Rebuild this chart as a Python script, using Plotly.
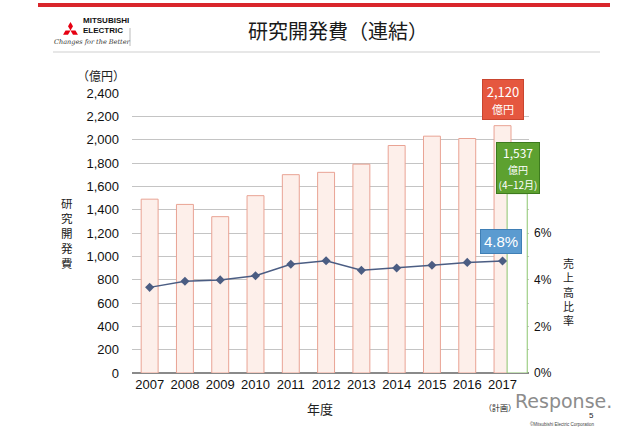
import math
import plotly.graph_objects as go

years = ["2007", "2008", "2009", "2010", "2011", "2012", "2013", "2014", "2015", "2016", "2017"]
rd_cost = [1490, 1445, 1340, 1520, 1700, 1720, 1790, 1950, 2030, 2010, 2120]
rd_ratio = [3.67, 3.93, 3.99, 4.17, 4.66, 4.81, 4.40, 4.50, 4.62, 4.74, 4.80]
actual_2017 = [1537]
y_ticks = [0, 200, 400, 600, 800, 1000, 1200, 1400, 1600, 1800, 2000, 2200, 2400]
y2_ticks = [0, 2, 4, 6]

W, H = 640, 427
L, R, T, B = 132, 111, 93, 54
PW, PH = W - L - R, H - T - B


def px(x):
    return (x - L) / PW


def py(y):
    return (H - B - y) / PH


xs = list(range(len(years)))
FONT = "Liberation Sans, Arial, sans-serif"
JP = "Noto Sans CJK JP, sans-serif"

fig = go.Figure()
fig.add_trace(go.Bar(
    x=xs, y=rd_cost, width=0.48,
    marker=dict(color="#FDEFEA", line=dict(color="#E9A394", width=1)),
    showlegend=False, hoverinfo="skip"))
fig.add_trace(go.Bar(
    x=[xs[-1]], y=actual_2017, width=0.57, offset=0.13,
    marker=dict(color="#FFFFFF", line=dict(color="#8CC56E", width=1)),
    showlegend=False, hoverinfo="skip"))
fig.add_trace(go.Scatter(
    x=xs, y=rd_ratio, yaxis="y2", mode="lines+markers",
    line=dict(color="#4B5D83", width=1.5),
    marker=dict(symbol="diamond", size=7, color="#4B5D83"),
    showlegend=False, hoverinfo="skip"))

ann = []


def txt(x, y, text, size, family=JP, color="#222", xanchor="center", align="center"):
    ann.append(dict(x=px(x), y=py(y), xref="paper", yref="paper", showarrow=False,
                    xanchor=xanchor, yanchor="middle", text=text, align=align,
                    font=dict(family=family, size=size, color=color)))


# callouts
ann.append(dict(x=xs[-1], y=2345, xref="x", yref="y", showarrow=False,
                xanchor="center", yanchor="middle",
                text="2,120<br><span style='font-size:11px'>億円</span>",
                font=dict(family=JP, size=13, color="white"),
                bgcolor="#E5573F", bordercolor="#C9452F", borderwidth=1, borderpad=2,
                width=36, align="center"))
ann.append(dict(x=xs[-1] + 0.45, y=1757, xref="x", yref="y", showarrow=False,
                xanchor="center", yanchor="middle",
                text="1,537<br><span style='font-size:10px'>億円</span><br><span style='font-size:10px'>(4−12月)</span>",
                font=dict(family=JP, size=12, color="white"),
                bgcolor="#5DA130", bordercolor="#3D7A1E", borderwidth=1, borderpad=1,
                width=40, align="center"))
ann.append(dict(x=xs[-1] - 0.03, y=1131, xref="x", yref="y", showarrow=False,
                xanchor="center", yanchor="middle",
                text="4.8%", font=dict(family=FONT, size=15, color="white"),
                bgcolor="#5B9BD0", bordercolor="#3F7FB5", borderwidth=1, borderpad=3))

# title and axis texts
txt(338, 31, "研究開発費（連結）", 20, color="#1a1a1a")
txt(101, 75, "（億円）", 12)
txt(67, 233, "<br>".join("研究開発費"), 11.5)
txt(568, 291, "<br>".join("売上高比率"), 11)
txt(320, 408, "年度", 13)
txt(500, 407, "（計画）", 8)
# logo texts
txt(81, 26, "<b>MITSUBISHI<br>ELECTRIC</b>", 8, family=FONT, color="#111", xanchor="left", align="left")
txt(52, 42, "<i>Changes for the Better</i>", 6.5, family="DejaVu Serif, serif", color="#333", xanchor="left")
# watermark / footer
txt(513, 401, "Response.", 19, family="DejaVu Sans, sans-serif", color="#8C8C8C", xanchor="left")
txt(591, 415, "5", 8, family=FONT)
txt(562, 424, "©Mitsubishi Electric Corporation", 4.5, family=FONT, color="#444")

shapes = []
shapes.append(dict(type="line", xref="paper", yref="paper", x0=px(38), x1=px(610), y0=py(5), y1=py(5),
                   line=dict(color="#D9262B", width=4)))
shapes.append(dict(type="line", xref="paper", yref="paper", x0=px(53), x1=px(600), y0=py(52), y1=py(52),
                   line=dict(color="#CFCFCF", width=1)))
shapes.append(dict(type="line", xref="paper", yref="paper", x0=px(130), x1=px(130), y0=py(28), y1=py(46),
                   line=dict(color="#BBBBBB", width=1)))
# three diamonds logo
cx, cy, Ld = 70.5, 30.5, 8.6
for ang in (90, 210, 330):
    dx, dy = math.cos(math.radians(ang)), -math.sin(math.radians(ang))
    qx, qy = -dy, dx
    w = Ld / 2 * math.tan(math.radians(30))
    pts = [(cx, cy),
           (cx + Ld / 2 * dx + w * qx, cy + Ld / 2 * dy + w * qy),
           (cx + Ld * dx, cy + Ld * dy),
           (cx + Ld / 2 * dx - w * qx, cy + Ld / 2 * dy - w * qy)]
    path = "M " + " L ".join(f"{px(a)} {py(b)}" for a, b in pts) + " Z"
    shapes.append(dict(type="path", xref="paper", yref="paper", path=path,
                       fillcolor="#E60012", line=dict(width=0)))

fig.update_layout(
    width=W, height=H, margin=dict(l=L, r=R, t=T, b=B, autoexpand=False),
    paper_bgcolor="white", plot_bgcolor="white",
    barmode="overlay", bargap=0,
    xaxis=dict(range=[-0.5, 10.75], tickmode="array", tickvals=xs, ticktext=years,
               showgrid=False, zeroline=False, showline=False, ticks="",
               tickfont=dict(family=FONT, size=13, color="#111"), ticklabelstandoff=2),
    yaxis=dict(range=[0, 2400], tickmode="array", tickvals=y_ticks,
               ticktext=[f"{v:,}" for v in y_ticks],
               showgrid=True, gridcolor="#C4C4C4", gridwidth=1,
               zeroline=True, zerolinecolor="#8A8A8A", zerolinewidth=1.5,
               ticks="", ticklabelstandoff=12,
               tickfont=dict(family=FONT, size=13, color="#111")),
    yaxis2=dict(range=[0, 12], overlaying="y", side="right", tickmode="array",
                tickvals=y2_ticks, ticktext=[f"{v}%" for v in y2_ticks],
                showgrid=False, zeroline=False, showline=False, ticks="", ticklabelstandoff=4,
                tickfont=dict(family=FONT, size=12, color="#111")),
    annotations=ann, shapes=shapes,
)

fig.write_html("out.html", config={"displayModeBar": False, "staticPlot": True},
               post_script="document.body.style.margin='0px';document.body.style.overflow='hidden';")
